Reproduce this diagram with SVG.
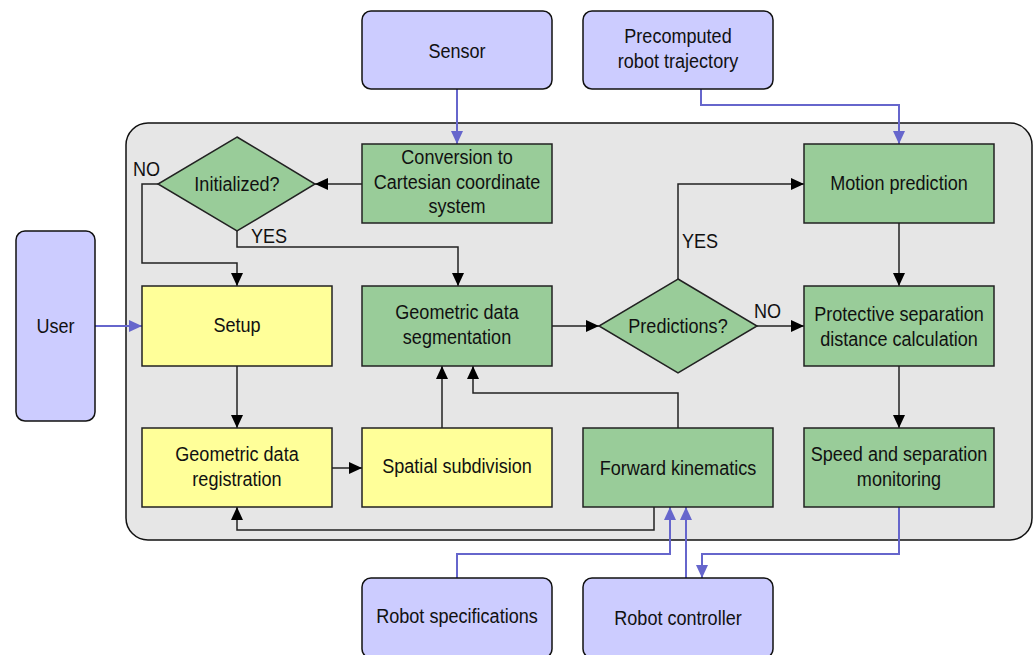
<svg xmlns="http://www.w3.org/2000/svg" width="1035" height="655" viewBox="0 0 1035 655">
<defs>
<style>
text{font-family:"Liberation Sans",Arial,sans-serif;font-size:21px;fill:#111;}
.c{text-anchor:middle;}
.blue{fill:#ccccff;stroke:#111;stroke-width:1.5;}
.green{fill:#99cc99;stroke:#222;stroke-width:1.5;}
.yellow{fill:#ffff99;stroke:#222;stroke-width:1.5;}
.k{fill:none;stroke:#222;stroke-width:1.5;marker-end:url(#ak);}
.b{fill:none;stroke:#6666cc;stroke-width:2;marker-end:url(#ab);}
</style>
<marker id="ak" markerUnits="userSpaceOnUse" markerWidth="13" markerHeight="12" refX="13" refY="6" orient="auto"><path d="M0,0 L13,6 L0,12 z" fill="#000"/></marker>
<marker id="ab" markerUnits="userSpaceOnUse" markerWidth="13" markerHeight="12" refX="13" refY="6" orient="auto"><path d="M0,0 L13,6 L0,12 z" fill="#6666cc"/></marker>
</defs>
<rect width="1035" height="655" fill="#fff"/>
<g id="container"><rect x="126" y="123" width="906" height="417" rx="22" fill="#e6e6e6" stroke="#111" stroke-width="1.5"/></g>

<g id="connectors">
<path class="b" d="M457,89 V144"/>
<path class="b" d="M701,89 V105 H899 V144"/>
<path class="b" d="M95,326 H142"/>
<path class="k" d="M362,184 H315"/>
<path class="k" d="M158,184 H142 V263 H237 V286"/>
<path class="k" d="M237,231 V247 H458 V286"/>
<path class="k" d="M237,366 V428"/>
<path class="k" d="M332,468 H362"/>
<path class="k" d="M442,428 V366"/>
<path class="k" d="M678,428 V393 H473 V366"/>
<path class="k" d="M552,326 H599"/>
<path class="k" d="M678,279 V184 H804"/>
<path class="k" d="M757,326 H804"/>
<path class="k" d="M899,223 V286"/>
<path class="k" d="M899,366 V428"/>
<path class="k" d="M654,507 V530 H237 V507"/>
<path class="b" d="M457,578 V554 H670 V507"/>
<path class="b" d="M686,578 V507"/>
<path class="b" d="M899,507 V554 H702 V578"/>
<text transform="translate(133 176) scale(0.86 1)">NO</text>
<text transform="translate(251 243) scale(0.86 1)">YES</text>
<text transform="translate(682 248) scale(0.86 1)">YES</text>
<text transform="translate(754 318) scale(0.86 1)">NO</text>
</g>

<g id="sensor"><rect class="blue" x="362" y="11" width="190" height="78" rx="9"/><text class="c" transform="translate(457 58) scale(0.86 1)">Sensor</text></g>
<g id="precomputed"><rect class="blue" x="583" y="11" width="190" height="78" rx="9"/><text class="c" transform="translate(678 43) scale(0.86 1)">Precomputed</text><text class="c" transform="translate(678 68) scale(0.86 1)">robot trajectory</text></g>
<g id="user"><rect class="blue" x="16" y="231" width="79" height="190" rx="9"/><text class="c" transform="translate(55.5 333) scale(0.86 1)">User</text></g>
<g id="conversion"><rect class="green" x="362" y="144" width="190" height="79"/><text class="c" transform="translate(457 164) scale(0.86 1)">Conversion to</text><text class="c" transform="translate(457 189) scale(0.86 1)">Cartesian coordinate</text><text class="c" transform="translate(457 213) scale(0.86 1)">system</text></g>
<g id="initialized"><polygon class="green" points="237,137 315,184 237,231 158,184"/><text class="c" transform="translate(237 191) scale(0.86 1)">Initialized?</text></g>
<g id="setup"><rect class="yellow" x="142" y="286" width="190" height="80"/><text class="c" transform="translate(237 332) scale(0.86 1)">Setup</text></g>
<g id="segmentation"><rect class="green" x="362" y="286" width="190" height="80"/><text class="c" transform="translate(457 319) scale(0.86 1)">Geometric data</text><text class="c" transform="translate(457 344) scale(0.86 1)">segmentation</text></g>
<g id="predictions"><polygon class="green" points="678,279 757,326 678,373 599,326"/><text class="c" transform="translate(678 333) scale(0.86 1)">Predictions?</text></g>
<g id="motion"><rect class="green" x="804" y="144" width="190" height="79"/><text class="c" transform="translate(899 190) scale(0.86 1)">Motion prediction</text></g>
<g id="protective"><rect class="green" x="804" y="286" width="190" height="80"/><text class="c" transform="translate(899 321) scale(0.86 1)">Protective separation</text><text class="c" transform="translate(899 346) scale(0.86 1)">distance calculation</text></g>
<g id="registration"><rect class="yellow" x="142" y="428" width="190" height="79"/><text class="c" transform="translate(237 461) scale(0.86 1)">Geometric data</text><text class="c" transform="translate(237 486) scale(0.86 1)">registration</text></g>
<g id="spatial"><rect class="yellow" x="362" y="428" width="190" height="79"/><text class="c" transform="translate(457 473) scale(0.86 1)">Spatial subdivision</text></g>
<g id="kinematics"><rect class="green" x="583" y="428" width="190" height="79"/><text class="c" transform="translate(678 475) scale(0.86 1)">Forward kinematics</text></g>
<g id="speed"><rect class="green" x="804" y="428" width="190" height="79"/><text class="c" transform="translate(899 461) scale(0.86 1)">Speed and separation</text><text class="c" transform="translate(899 486) scale(0.86 1)">monitoring</text></g>
<g id="specifications"><rect class="blue" x="362" y="578" width="190" height="80" rx="9"/><text class="c" transform="translate(457 623) scale(0.86 1)">Robot specifications</text></g>
<g id="controller"><rect class="blue" x="583" y="578" width="190" height="80" rx="9"/><text class="c" transform="translate(678 625) scale(0.86 1)">Robot controller</text></g>
</svg>
